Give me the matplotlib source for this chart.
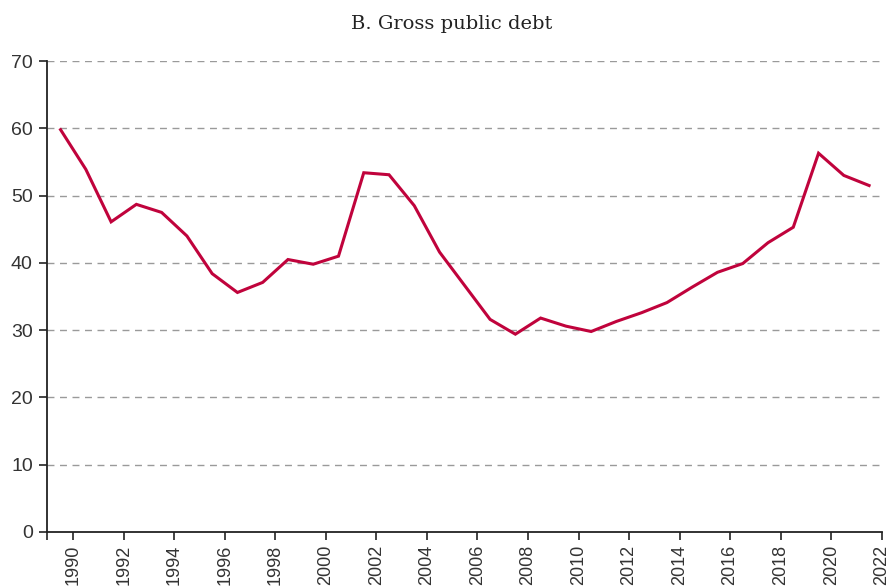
import matplotlib
matplotlib.use('Agg')
import matplotlib.pyplot as plt
import numpy as np

years = list(range(1990, 2023))
debt = [59.8, 53.9, 46.1, 48.7, 47.5, 44.0, 38.4, 35.6, 37.1, 40.5,
        39.8, 41.0, 53.4, 53.1, 48.5, 41.6, 36.6, 31.6, 29.4, 31.8,
        30.6, 29.8, 31.3, 32.6, 34.1, 36.4, 38.6, 39.9, 43.0, 45.3,
        56.3, 53.0, 51.5]
tick_years = list(range(1990, 2023, 2))
title = 'B. Gross public debt'

fig = plt.figure(figsize=(8.89, 5.87), dpi=100)
ax = fig.add_axes([0.0525, 0.0937, 0.9393, 0.8023])

ax.plot(years, debt, color='#c0033c', linewidth=2.2, solid_joinstyle='miter', zorder=3)

ax.set_xlim(1989.45, 2022.5)
ax.set_ylim(0, 70)
ax.set_yticks(np.arange(0, 71, 10))
for v in range(10, 71, 10):
    ax.axhline(v, color='#9a9a9a', linestyle=(0, (5, 4)), linewidth=1.0, zorder=1)

# tick marks sit half a year to the right of each labelled point
ax.set_xticks([1989.45] + [y + 0.5 for y in tick_years])
ax.set_xticklabels([''] + [str(y) for y in tick_years], rotation=90,
                   va='top', ha='center')

for s in ['top', 'right']:
    ax.spines[s].set_visible(False)
for s in ['left', 'bottom']:
    ax.spines[s].set_color('#222222')
    ax.spines[s].set_linewidth(1.3)

ax.tick_params(axis='both', direction='out', length=6, width=1.2, color='#222222',
               labelcolor='#333333')
ax.tick_params(axis='y', pad=4, labelsize=14)
ax.tick_params(axis='x', pad=3, labelsize=13)
for lab in ax.get_xticklabels() + ax.get_yticklabels():
    lab.set_family('Liberation Sans')

fig.text(452 / 889, 1 - 24 / 587, title, ha='center', va='center',
         fontsize=14, family='DejaVu Serif', color='#222222')

plt.savefig('out.png', dpi=100)
